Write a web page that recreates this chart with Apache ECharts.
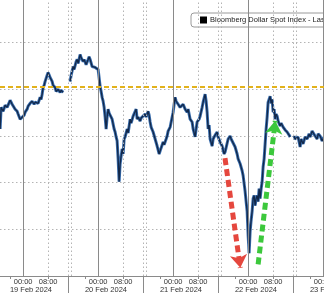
<!DOCTYPE html>
<html><head><meta charset="utf-8">
<script src="https://cdn.jsdelivr.net/npm/echarts@6/dist/echarts.min.js"></script>
<style>html,body{margin:0;padding:0;background:#fff;overflow:hidden;width:324px;height:294px}#c{width:364px;height:298px;margin-top:-4px}</style>
</head><body><div id="c"></div>
<script>
// hours since 19 Feb 2024 00:00
const hours = [-7.36,-7.04,-6.40,-5.76,-5.12,-4.16,-3.52,-3.20,-2.56,-1.92,-1.60,-0.96,-0.32,0.32,0.64,1.28,1.60,2.24,2.88,3.52,3.84,4.48,4.80,5.44,5.76,6.08,6.40,6.72,7.04,7.68,8.00,8.64,9.28,9.60,10.24,10.56,10.88,11.20,11.84,12.16,12.80,
13.5,
15.04,15.36,16.00,16.32,16.96,17.28,17.60,18.24,18.56,19.20,19.52,20.16,20.80,21.12,21.44,22.08,22.40,23.04,23.68,24.00,24.32,24.64,24.96,25.28,25.60,25.92,26.24,26.56,26.88,27.20,27.52,27.84,28.16,28.48,28.80,29.12,29.44,29.76,30.08,30.40,30.72,31.04,31.36,31.68,32.00,32.32,32.64,33.28,33.60,34.24,34.56,35.20,35.52,36.16,36.48,36.80,37.44,37.76,38.40,
39.04,39.36,40.00,40.32,40.64,40.96,41.60,42.24,42.88,43.20,43.52,44.16,44.48,44.80,45.12,45.76,46.08,46.40,47.04,47.68,48.00,48.32,48.64,48.96,49.60,50.24,50.88,51.20,51.84,52.48,52.80,53.44,54.08,54.40,55.04,55.36,55.68,56.32,56.64,57.28,57.60,58.24,58.56,58.88,59.20,59.52,59.84,60.48,60.80,61.44,62.08,62.40,63.04,63.68,64.32,64.64,65.28,65.60,66.24,66.56,67.20,67.84,68.48,68.80,69.44,70.08,70.40,70.72,71.04,71.36,71.68,72.00,72.32,72.64,72.96,73.28,73.60,73.92,74.24,74.56,74.88,75.20,75.52,75.84,76.16,76.48,76.80,77.12,77.44,77.76,78.08,78.40,78.72,79.04,79.36,79.68,80.00,80.32,80.64,80.96,81.28,81.60,82.24,82.56,83.20,83.84,84.48,85.12,85.44,
86.0,
86.72,87.04,87.68,88.00,88.64,88.96,89.60,90.24,90.88,91.52,91.84,92.48,92.80,93.44,94.08,94.40,95.04,95.68,96.32];
const values = [1242.30,1243.23,1243.06,1243.32,1243.23,1243.53,1243.36,1243.28,1243.15,1243.06,1242.94,1242.72,1242.64,1242.89,1243.02,1243.15,1243.28,1243.40,1243.49,1243.36,1243.45,1243.49,1243.40,1243.66,1243.57,1243.79,1244.08,1244.17,1244.34,1244.60,1244.72,1244.51,1244.34,1244.17,1244.08,1243.91,1243.87,1244.00,1243.87,1243.96,1243.87,
null,
1244.34,1244.60,1244.98,1244.85,1245.19,1245.28,1245.11,1245.49,1245.36,1245.19,1245.28,1245.06,1245.28,1245.40,1245.28,1244.98,1245.06,1244.94,1245.02,1244.85,1244.77,1244.13,1243.91,1243.66,1243.49,1243.23,1242.81,1242.30,1242.81,1243.15,1242.98,1243.06,1242.81,1242.72,1242.51,1242.30,1242.17,1241.96,1241.79,1241.02,1240.04,1240.81,1240.89,1241.45,1241.23,1241.87,1241.96,1242.30,1242.13,1242.72,1242.55,1242.85,1242.77,1243.15,1242.72,1242.81,1242.64,1242.77,1242.72,
1242.94,1242.81,1243.06,1242.89,1242.60,1242.38,1242.17,1241.87,1241.57,1241.40,1241.23,1241.49,1241.57,1241.74,1241.62,1241.87,1242.00,1242.21,1242.38,1242.43,1243.02,1243.36,1243.66,1243.49,1243.36,1243.23,1243.15,1243.36,1243.15,1243.02,1243.15,1242.72,1242.60,1242.30,1241.96,1242.30,1242.60,1242.72,1242.85,1243.23,1243.45,1243.79,1243.49,1243.02,1242.30,1242.47,1241.87,1241.57,1241.87,1242.04,1242.17,1241.96,1241.74,1241.57,1241.23,1241.32,1241.32,1241.87,1242.00,1241.87,1241.79,1241.53,1241.23,1241.02,1240.81,1240.51,1240.30,1239.96,1239.62,1239.19,1238.77,1237.74,1236.98,1237.91,1238.38,1238.77,1239.32,1239.45,1239.02,1239.32,1239.45,1239.19,1239.74,1239.32,1239.74,1240.04,1240.68,1241.02,1241.66,1242.30,1242.81,1243.45,1243.57,1243.70,1243.40,1243.57,1243.02,1243.15,1242.72,1242.94,1242.85,1242.64,1242.43,1242.55,1242.38,1242.26,1242.17,1242.04,1241.96,
null,
1242.00,1241.87,1241.79,1241.96,1241.53,1241.87,1241.66,1241.96,1241.87,1242.09,1241.96,1242.21,1242.17,1242.00,1241.87,1242.09,1242.00,1241.79,1241.96];

const seriesName = 'Bloomberg Dollar Spot Index - Last Price';
const dayStarts = [0, 24, 48, 72, 96];
const morningLines = [8, 32, 56, 80, 104];
const sessionBreaks = [14.5, 15.5, 38.5, 39.5, 62.5, 63.5, 86.5, 87.5];
const timeTicks = [0, 8, 24, 32, 48, 56, 72, 80, 96, 104];
const minorTicks = [-4, 8, 20, 32, 44, 56, 68, 80, 92, 104];
const separatorTicks = [14.5, 38.5, 62.5, 86.5];
const dateLabels = ['19 Feb 2024', '20 Feb 2024', '21 Feb 2024', '22 Feb 2024', '23 Feb 2024'];
const dateLabelPos = [2.5, 26.5, 50.5, 74.5, 98.5];
const refLevel = 1244.1;
const downArrow = [[64.6, 1241.05], [69.5, 1236.35]];
const upArrow = [[75.2, 1236.5], [80.7, 1242.65]];

const chart = echarts.init(document.getElementById('c'), null, {renderer: 'canvas'});
const fontFam = '"Liberation Sans", Arial, sans-serif';
const xMin = -7.4, xMax = 109.08;
const seriesData = hours.map((h, i) => [h, values[i] === null ? '-' : values[i]]);

const vLines = []
  .concat(dayStarts.map(v => ({xAxis: v, lineStyle: {color: '#8a8a8a', type: 'solid', width: 1}})))
  .concat(morningLines.map(v => ({xAxis: v, lineStyle: {color: '#b4b4b4', type: [1.5, 2.5], width: 1}})))
  .concat(sessionBreaks.map(v => ({xAxis: v, lineStyle: {color: '#b4b4b4', type: [1.5, 2.5], width: 1}})));

const option = {
  animation: false,
  backgroundColor: '#ffffff',
  grid: {left: 0, right: 0, top: 0, bottom: 16, containLabel: false},
  legend: {
    data: [{name: seriesName, icon: 'rect', itemStyle: {color: '#000'}}],
    left: 191, top: 17,
    padding: [3, 30, 3, 9],
    itemWidth: 7, itemHeight: 7, itemGap: 3,
    backgroundColor: '#fff', borderColor: '#9a9a9a', borderWidth: 1, borderRadius: 3,
    textStyle: {fontSize: 7.5, color: '#222', fontFamily: fontFam, padding: [0, 0, 0, -2]},
    selectedMode: false
  },
  xAxis: [{
    type: 'value', min: xMin, max: xMax,
    axisLine: {show: true, lineStyle: {color: '#8a8a8a', width: 1}},
    axisTick: {show: true, customValues: minorTicks, length: 3, lineStyle: {color: '#8a8a8a'}},
    axisLabel: {
      show: true, customValues: timeTicks, margin: 2,
      fontSize: 7.5, color: '#333', fontFamily: fontFam,
      formatter: v => (String(Math.round(((v % 24) + 24) % 24)).padStart(2, '0') + ':00')
    },
    splitLine: {show: false}
  }, {
    type: 'value', min: xMin, max: xMax, position: 'bottom',
    axisLine: {show: false},
    axisTick: {show: true, customValues: separatorTicks, length: 17, lineStyle: {color: '#8a8a8a'}},
    axisLabel: {
      show: true, customValues: dateLabelPos, margin: 10,
      fontSize: 7.5, color: '#333', fontFamily: fontFam,
      formatter: v => dateLabels[dateLabelPos.indexOf(v)] || ''
    },
    splitLine: {show: false}
  }],
  yAxis: {
    type: 'value', min: 1236, max: 1248, interval: 2,
    axisLine: {show: false}, axisTick: {show: false}, axisLabel: {show: false},
    splitLine: {show: true, lineStyle: {color: '#b4b4b4', type: [1.5, 2.5], width: 1}}
  },
  series: [{
    name: 'grid-lines', type: 'line', data: [], silent: true, z: 1,
    markLine: {silent: true, symbol: 'none', label: {show: false}, animation: false, data: vLines}
  }, {
    name: 'ref', type: 'line', data: [], silent: true, z: 3,
    markLine: {silent: true, symbol: 'none', label: {show: false}, animation: false,
      data: [{yAxis: refLevel, lineStyle: {color: '#e2b21c', type: [5, 3], width: 2}}]}
  }, {
    name: 'band', type: 'line', z: 4, silent: true,
    data: seriesData,
    showSymbol: false, symbol: 'none', connectNulls: false,
    lineStyle: {color: '#3a6eae', width: 3}
  }, {
    name: seriesName, type: 'line', z: 4,
    data: seriesData,
    showSymbol: false, symbol: 'none', connectNulls: false,
    lineStyle: {color: '#12284a', width: 1.3},
    itemStyle: {color: '#000'}
  }, {
    name: 'arrows', type: 'line', data: [], silent: true, z: 5,
    markLine: {silent: true, label: {show: false}, animation: false,
      data: [
        [{coord: downArrow[0], symbol: 'none', lineStyle: {color: '#e5473e', type: [7, 4], width: 5}},
         {coord: downArrow[1], symbol: 'arrow', symbolSize: [13, 13]}],
        [{coord: upArrow[0], symbol: 'none', lineStyle: {color: '#3cc83c', type: [7, 4], width: 5}},
         {coord: upArrow[1], symbol: 'arrow', symbolSize: [13, 13]}]
      ]}
  }]
};
chart.setOption(option);
</script></body></html>
